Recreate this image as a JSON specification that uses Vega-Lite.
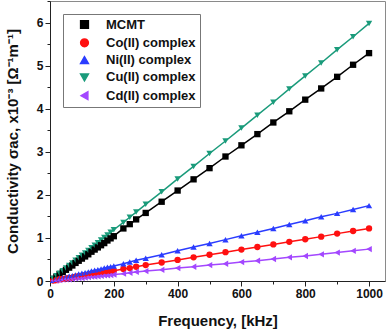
{
  "$schema": "https://vega.github.io/schema/vega-lite/v6.json",
  "width": 335,
  "height": 280,
  "autosize": {"type": "none"},
  "padding": {"left": 50, "top": 1, "right": 2, "bottom": 49},
  "background": "white",
  "config": {
    "view": {"stroke": "#8a8a8a", "strokeWidth": 1},
    "font": "Liberation Sans",
    "axis": {"grid": false, "domainColor": "#222", "tickColor": "#222", "labelFont": "Liberation Sans", "labelFontWeight": "bold", "labelFontSize": 12, "labelColor": "#111", "titleFont": "Liberation Sans", "titleFontWeight": "bold", "titleFontSize": 15, "titleColor": "#111"}
  },
  "data": {"values": [
    {"f": 10, "MCMT": 0.05, "Co(II) complex": 0.01, "Ni(II) complex": 0.02, "Cu(II) complex": 0.06, "Cd(II) complex": 0.01},
    {"f": 20, "MCMT": 0.10, "Co(II) complex": 0.02, "Ni(II) complex": 0.04, "Cu(II) complex": 0.12, "Cd(II) complex": 0.01},
    {"f": 30, "MCMT": 0.16, "Co(II) complex": 0.04, "Ni(II) complex": 0.05, "Cu(II) complex": 0.18, "Cd(II) complex": 0.02},
    {"f": 40, "MCMT": 0.21, "Co(II) complex": 0.05, "Ni(II) complex": 0.07, "Cu(II) complex": 0.24, "Cd(II) complex": 0.03},
    {"f": 50, "MCMT": 0.26, "Co(II) complex": 0.06, "Ni(II) complex": 0.09, "Cu(II) complex": 0.30, "Cd(II) complex": 0.04},
    {"f": 60, "MCMT": 0.31, "Co(II) complex": 0.07, "Ni(II) complex": 0.11, "Cu(II) complex": 0.36, "Cd(II) complex": 0.04},
    {"f": 70, "MCMT": 0.36, "Co(II) complex": 0.08, "Ni(II) complex": 0.12, "Cu(II) complex": 0.42, "Cd(II) complex": 0.05},
    {"f": 80, "MCMT": 0.42, "Co(II) complex": 0.10, "Ni(II) complex": 0.14, "Cu(II) complex": 0.48, "Cd(II) complex": 0.06},
    {"f": 90, "MCMT": 0.47, "Co(II) complex": 0.11, "Ni(II) complex": 0.16, "Cu(II) complex": 0.54, "Cd(II) complex": 0.07},
    {"f": 100, "MCMT": 0.52, "Co(II) complex": 0.12, "Ni(II) complex": 0.18, "Cu(II) complex": 0.60, "Cd(II) complex": 0.07},
    {"f": 110, "MCMT": 0.57, "Co(II) complex": 0.13, "Ni(II) complex": 0.19, "Cu(II) complex": 0.65, "Cd(II) complex": 0.08},
    {"f": 120, "MCMT": 0.62, "Co(II) complex": 0.14, "Ni(II) complex": 0.21, "Cu(II) complex": 0.71, "Cd(II) complex": 0.09},
    {"f": 130, "MCMT": 0.68, "Co(II) complex": 0.16, "Ni(II) complex": 0.23, "Cu(II) complex": 0.77, "Cd(II) complex": 0.10},
    {"f": 140, "MCMT": 0.73, "Co(II) complex": 0.17, "Ni(II) complex": 0.25, "Cu(II) complex": 0.83, "Cd(II) complex": 0.10},
    {"f": 150, "MCMT": 0.78, "Co(II) complex": 0.18, "Ni(II) complex": 0.26, "Cu(II) complex": 0.89, "Cd(II) complex": 0.11},
    {"f": 160, "MCMT": 0.83, "Co(II) complex": 0.19, "Ni(II) complex": 0.28, "Cu(II) complex": 0.95, "Cd(II) complex": 0.12},
    {"f": 170, "MCMT": 0.88, "Co(II) complex": 0.20, "Ni(II) complex": 0.30, "Cu(II) complex": 1.01, "Cd(II) complex": 0.13},
    {"f": 180, "MCMT": 0.94, "Co(II) complex": 0.22, "Ni(II) complex": 0.32, "Cu(II) complex": 1.07, "Cd(II) complex": 0.13},
    {"f": 190, "MCMT": 0.99, "Co(II) complex": 0.23, "Ni(II) complex": 0.33, "Cu(II) complex": 1.13, "Cd(II) complex": 0.14},
    {"f": 200, "MCMT": 1.04, "Co(II) complex": 0.24, "Ni(II) complex": 0.35, "Cu(II) complex": 1.19, "Cd(II) complex": 0.15},
    {"f": 230, "MCMT": 1.22, "Co(II) complex": 0.28, "Ni(II) complex": 0.40, "Cu(II) complex": 1.36, "Cd(II) complex": 0.17},
    {"f": 250, "MCMT": 1.32, "Co(II) complex": 0.30, "Ni(II) complex": 0.44, "Cu(II) complex": 1.48, "Cd(II) complex": 0.19},
    {"f": 270, "MCMT": 1.43, "Co(II) complex": 0.33, "Ni(II) complex": 0.48, "Cu(II) complex": 1.60, "Cd(II) complex": 0.21},
    {"f": 300, "MCMT": 1.58, "Co(II) complex": 0.37, "Ni(II) complex": 0.53, "Cu(II) complex": 1.78, "Cd(II) complex": 0.23},
    {"f": 350, "MCMT": 1.84, "Co(II) complex": 0.43, "Ni(II) complex": 0.61, "Cu(II) complex": 2.07, "Cd(II) complex": 0.26},
    {"f": 400, "MCMT": 2.10, "Co(II) complex": 0.49, "Ni(II) complex": 0.70, "Cu(II) complex": 2.37, "Cd(II) complex": 0.30},
    {"f": 450, "MCMT": 2.36, "Co(II) complex": 0.55, "Ni(II) complex": 0.79, "Cu(II) complex": 2.66, "Cd(II) complex": 0.33},
    {"f": 500, "MCMT": 2.62, "Co(II) complex": 0.61, "Ni(II) complex": 0.87, "Cu(II) complex": 2.96, "Cd(II) complex": 0.37},
    {"f": 550, "MCMT": 2.89, "Co(II) complex": 0.67, "Ni(II) complex": 0.96, "Cu(II) complex": 3.25, "Cd(II) complex": 0.40},
    {"f": 600, "MCMT": 3.15, "Co(II) complex": 0.73, "Ni(II) complex": 1.05, "Cu(II) complex": 3.55, "Cd(II) complex": 0.44},
    {"f": 650, "MCMT": 3.41, "Co(II) complex": 0.79, "Ni(II) complex": 1.13, "Cu(II) complex": 3.85, "Cd(II) complex": 0.47},
    {"f": 700, "MCMT": 3.68, "Co(II) complex": 0.85, "Ni(II) complex": 1.22, "Cu(II) complex": 4.15, "Cd(II) complex": 0.51},
    {"f": 750, "MCMT": 3.94, "Co(II) complex": 0.91, "Ni(II) complex": 1.31, "Cu(II) complex": 4.46, "Cd(II) complex": 0.55},
    {"f": 800, "MCMT": 4.21, "Co(II) complex": 0.97, "Ni(II) complex": 1.40, "Cu(II) complex": 4.76, "Cd(II) complex": 0.58},
    {"f": 850, "MCMT": 4.47, "Co(II) complex": 1.03, "Ni(II) complex": 1.49, "Cu(II) complex": 5.06, "Cd(II) complex": 0.62},
    {"f": 900, "MCMT": 4.74, "Co(II) complex": 1.10, "Ni(II) complex": 1.57, "Cu(II) complex": 5.37, "Cd(II) complex": 0.66},
    {"f": 950, "MCMT": 5.02, "Co(II) complex": 1.16, "Ni(II) complex": 1.66, "Cu(II) complex": 5.67, "Cd(II) complex": 0.70},
    {"f": 1000, "MCMT": 5.29, "Co(II) complex": 1.22, "Ni(II) complex": 1.75, "Cu(II) complex": 5.98, "Cd(II) complex": 0.74}
  ]},
  "transform": [
    {"fold": ["MCMT", "Co(II) complex", "Ni(II) complex", "Cu(II) complex", "Cd(II) complex"], "as": ["series", "sigma"]}
  ],
  "encoding": {
    "x": {"field": "f", "type": "quantitative",
      "scale": {"domain": [0, 1050], "nice": false, "zero": false},
      "axis": {"title": "Frequency, [kHz]", "values": [0, 100, 200, 300, 400, 500, 600, 700, 800, 900, 1000],
        "labelExpr": "datum.value % 200 === 0 ? format(datum.value, 'd') : ''",
        "tickSize": {"condition": {"test": "datum.value % 200 === 0", "value": 5}, "value": 3},
        "labelPadding": 2, "titlePadding": 14, "labelFlush": false}},
    "y": {"field": "sigma", "type": "quantitative",
      "scale": {"domain": [0, 6.5], "nice": false},
      "axis": {"title": "Conductivity σac, x10⁻³ [Ω⁻¹m⁻¹]", "values": [0, 0.5, 1, 1.5, 2, 2.5, 3, 3.5, 4, 4.5, 5, 5.5, 6, 6.5],
        "labelExpr": "datum.value % 1 === 0 ? format(datum.value, 'd') : ''",
        "tickSize": {"condition": {"test": "datum.value % 1 === 0", "value": 5}, "value": 3},
        "labelPadding": 2, "titlePadding": 16, "labelFlush": false}}
  },
  "layer": [
    {"mark": {"type": "line", "strokeWidth": 1.5},
     "encoding": {"color": {"field": "series", "type": "nominal",
      "scale": {"domain": ["MCMT", "Co(II) complex", "Ni(II) complex", "Cu(II) complex", "Cd(II) complex"],
        "range": ["#000000", "#ff1010", "#2a3cff", "#1a9b7b", "#a347ff"]},
      "legend": {"title": null, "orient": "top-left", "offset": 13, "padding": 4,
        "strokeColor": "#777", "fillColor": "white",
        "labelFont": "Liberation Sans", "labelFontWeight": "bold", "labelFontSize": 13, "labelColor": "#111",
        "symbolSize": 60, "symbolOffset": 11, "labelOffset": 15, "rowPadding": 3.3,
        "symbolStrokeWidth": 1.5, "symbolOpacity": 1}}}},
    {"mark": {"type": "point", "filled": true, "size": 40, "opacity": 1, "strokeWidth": 0},
     "encoding": {
       "fill": {"field": "series", "type": "nominal",
         "scale": {"domain": ["MCMT", "Co(II) complex", "Ni(II) complex", "Cu(II) complex", "Cd(II) complex"],
           "range": ["#000000", "#ff1010", "#2a3cff", "#1a9b7b", "#a347ff"]},
         "legend": null},
       "shape": {"field": "series", "type": "nominal",
       "scale": {"domain": ["MCMT", "Co(II) complex", "Ni(II) complex", "Cu(II) complex", "Cd(II) complex"],
         "range": ["square", "circle", "triangle-up", "triangle-down", "triangle-left"]},
       "legend": null}}}
  ]
}
